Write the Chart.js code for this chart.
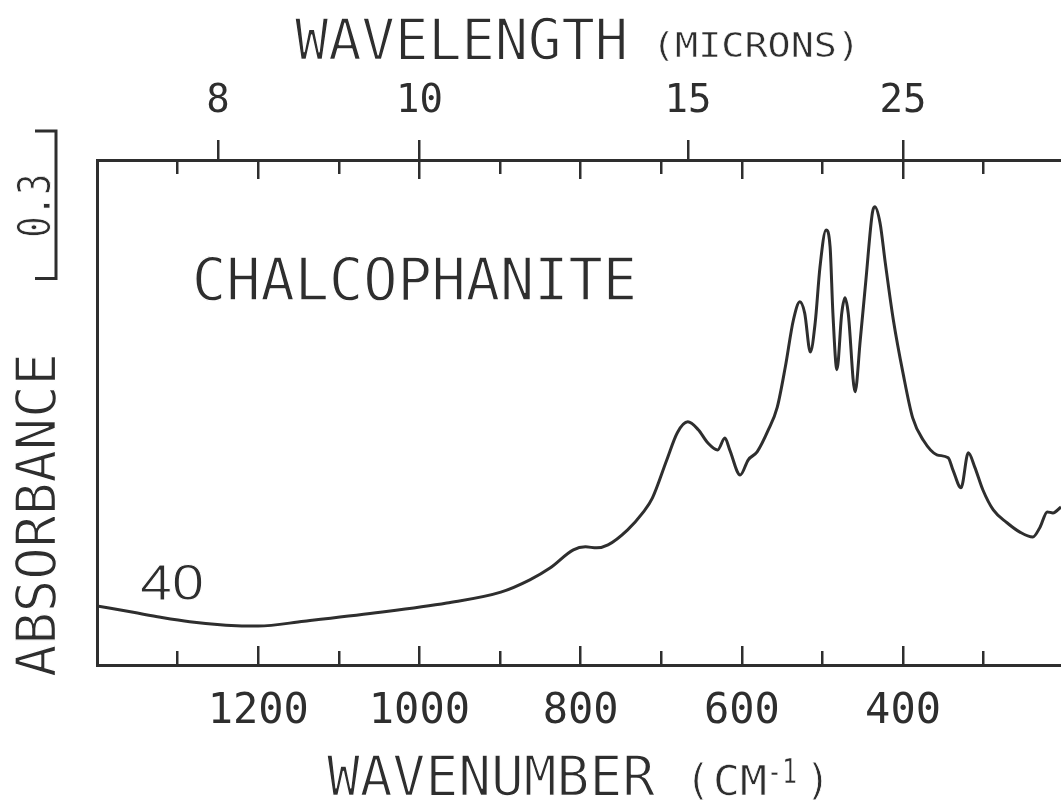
<!DOCTYPE html>
<html><head><meta charset="utf-8">
<script src="https://cdn.jsdelivr.net/npm/chart.js@4/dist/chart.umd.min.js"></script>
<style>html,body{margin:0;padding:0;background:#fff;}canvas{display:block;}</style>
</head><body>
<canvas id="c" width="1061" height="804"></canvas>
<script>
// ---- data ----
const wavenumber = [1400,1355,1321,1285,1240,1200,1143,1054,966,899,863,838,809,794,780,766,742,723,711,693,680,667,654,642,630,621,615,602,592,581,567,556,546,536,528,522,515,509,503,495.5,490.5,487,482,476,472,468,459.5,453,446,438,435,428.5,422,412,400,388,375,358,344,338,328,319,311,301,288,271,255,239,230,221,214,204];
const absorbance = [0.120,0.107,0.097,0.088,0.081,0.079,0.089,0.106,0.126,0.148,0.173,0.197,0.234,0.240,0.238,0.244,0.274,0.309,0.339,0.417,0.472,0.494,0.478,0.451,0.437,0.461,0.437,0.386,0.417,0.433,0.478,0.524,0.606,0.701,0.738,0.715,0.636,0.695,0.809,0.884,0.850,0.715,0.600,0.715,0.746,0.715,0.555,0.661,0.783,0.919,0.931,0.898,0.817,0.701,0.593,0.502,0.457,0.427,0.421,0.396,0.360,0.431,0.402,0.356,0.315,0.289,0.270,0.260,0.280,0.311,0.309,0.321];
const bottomMajorTicks = [1200,1000,800,600,400];
const bottomMinorTicks = [1300,1100,900,700,500,300];
const wavelengthTicks = [8,10,15,25];
const sampleName = 'CHALCOPHANITE';
const sampleNumber = '40';
const scaleBarValue = 0.3;
const xMin = 204, xMax = 1400, yMin = 0, yMax = 1.026;

const INK = '#2e2e2e';
const MONO = "'DejaVu Sans Mono', monospace";

const points = wavenumber.map((w, i) => ({x: w, y: absorbance[i]}));

function setTicks(values) {
  return s => { s.ticks = values.map(v => ({value: v})); };
}
function fixH(h) { return s => { s.height = h; }; }

function xAxis(position, weight, tickValues, tickLength, opts) {
  return Object.assign({
    type: 'linear', position: position, weight: weight,
    min: xMin, max: xMax, reverse: true,
    afterBuildTicks: setTicks(tickValues),
    grid: {display: true, drawOnChartArea: false, drawTicks: true, tickLength: tickLength, color: INK, lineWidth: 2.5},
    border: {display: false},
    ticks: {display: false, autoSkip: false, maxRotation: 0, minRotation: 0}
  }, opts);
}

const wavelengthValues = wavelengthTicks.map(um => 10000 / um);

const textPlugin = {
  id: 'texts',
  afterDraw(chart) {
    const ctx = chart.ctx;
    ctx.save();
    ctx.fillStyle = INK;
    ctx.textAlign = 'left';
    ctx.textBaseline = 'alphabetic';
    function fit(text, x, y, size, width, family, rot, erode) {
      ctx.font = size + 'px ' + (family || MONO);
      const w = ctx.measureText(text).width;
      ctx.save();
      ctx.translate(x, y);
      if (rot) ctx.rotate(rot);
      ctx.scale(width / w, 1);
      ctx.fillText(text, 0, 0);
      const e = erode === undefined ? 1.3 : erode;
      if (e > 0) {
        ctx.strokeStyle = '#fff';
        ctx.lineWidth = e;
        ctx.lineJoin = 'round';
        ctx.strokeText(text, 0, 0);
      }
      ctx.restore();
    }
    function centered(text, cx, y, size) {
      ctx.font = size + 'px ' + MONO;
      ctx.textAlign = 'center';
      ctx.fillText(text, cx, y);
      ctx.strokeStyle = '#fff';
      ctx.lineWidth = 0.8;
      ctx.strokeText(text, cx, y);
      ctx.textAlign = 'left';
    }
    // top title
    fit('WAVELENGTH', 295, 60, 57, 333);
    fit('(MICRONS)', 652, 57, 33, 208, MONO, 0, 0.5);
    // bottom title
    fit('WAVENUMBER', 327, 795, 55, 328);
    centered('(', 698, 795, 42);
    fit('CM', 713, 795, 41, 54, MONO, 0, 0.7);
    fit('-1', 767, 783, 34, 30, MONO, 0, 0.5);
    centered(')', 818, 795, 42);
    // y title
    fit('ABSORBANCE', 55, 677, 55, 324, MONO, -Math.PI / 2);
    // sample name & number
    fit(sampleName, 192, 300, 59, 445);
    fit(sampleNumber, 140, 600, 50, 64, "'Liberation Sans', Arial, sans-serif", 0, 1.0);
    // absorbance scale bar
    const ys = chart.scales.y;
    const yb = ys.getPixelForValue(0.785);
    const yt = ys.getPixelForValue(0.785 + scaleBarValue);
    ctx.strokeStyle = INK;
    ctx.lineWidth = 3;
    ctx.beginPath();
    ctx.moveTo(35, yt); ctx.lineTo(56, yt); ctx.lineTo(56, yb); ctx.lineTo(35, yb);
    ctx.stroke();
    fit(String(scaleBarValue), 50, (yt + yb) / 2 + 33, 44, 64, MONO, -Math.PI / 2, 0.9);
    ctx.restore();
  }
};

new Chart(document.getElementById('c'), {
  type: 'line',
  data: {
    datasets: [{
      data: points,
      xAxisID: 'x', yAxisID: 'y',
      borderColor: INK, borderWidth: 3,
      pointRadius: 0, fill: false,
      cubicInterpolationMode: 'monotone'
    }]
  },
  options: {
    responsive: false, animation: false, devicePixelRatio: 1,
    layout: {padding: 0},
    plugins: {legend: {display: false}, tooltip: {enabled: false}, title: {display: false}},
    scales: {
      x: xAxis('bottom', 1, bottomMajorTicks, -19, {
        afterFit: fixH(139),
        border: {display: true, color: INK, width: 3},
        ticks: {display: true, autoSkip: false, maxRotation: 0, minRotation: 0,
          color: INK, padding: 41, font: {family: MONO, size: 42},
          callback: v => String(v)}
      }),
      xMinorBottom: xAxis('bottom', 0, bottomMinorTicks, -14, {afterFit: fixH(0)}),
      xTopMajor: xAxis('top', 0, bottomMajorTicks, -19, {afterFit: fixH(0)}),
      xTopMinor: xAxis('top', 0, bottomMinorTicks, -14, {afterFit: fixH(0)}),
      xWave: xAxis('top', 2, wavelengthValues, 20, {
        afterFit: fixH(160),
        border: {display: true, color: INK, width: 3},
        ticks: {display: true, autoSkip: false, maxRotation: 0, minRotation: 0,
          color: INK, padding: 15, font: {family: MONO, size: 39},
          callback: (v, i) => String(wavelengthTicks[i])}
      }),
      y: {
        type: 'linear', position: 'left', min: yMin, max: yMax,
        afterFit: s => { s.width = 97; },
        grid: {display: false, drawTicks: false},
        border: {display: true, color: INK, width: 3},
        ticks: {display: false}
      }
    }
  },
  plugins: [textPlugin]
});
</script>
</body></html>
